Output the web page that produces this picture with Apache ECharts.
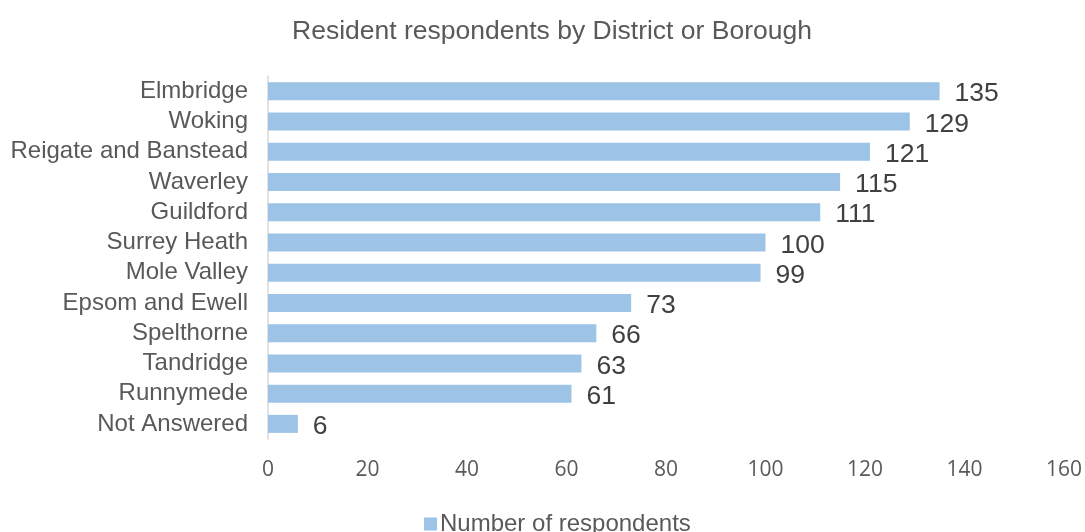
<!DOCTYPE html>
<html>
<head>
<meta charset="utf-8">
<script src="https://cdn.jsdelivr.net/npm/echarts@6/dist/echarts.min.js"></script>
<style>
  html, body { margin: 0; padding: 0; background: #fff; }
  #chart { width: 1085px; height: 532px; }
</style>
</head>
<body>
<div id="chart"></div>
<script>
// Respondent counts per district, top to bottom
const districts = [
  'Elmbridge', 'Woking', 'Reigate and Banstead', 'Waverley', 'Guildford',
  'Surrey Heath', 'Mole Valley', 'Epsom and Ewell', 'Spelthorne',
  'Tandridge', 'Runnymede', 'Not Answered'
];
const respondents = [135, 129, 121, 115, 111, 100, 99, 73, 66, 63, 61, 6];
const axisTicks = [0, 20, 40, 60, 80, 100, 120, 140, 160];

const chart = echarts.init(document.getElementById('chart'), null, { renderer: 'canvas' });

chart.setOption({
  animation: false,
  backgroundColor: '#ffffff',
  title: {
    text: 'Resident respondents by District or Borough',
    left: 287,
    top: 13,
    textStyle: {
      fontFamily: 'Liberation Sans, Arial, sans-serif',
      fontSize: 26.5,
      fontWeight: 'normal',
      color: '#595959'
    }
  },
  legend: {
    top: 507,
    left: 419,
    icon: 'rect',
    itemWidth: 13,
    itemHeight: 13,
    itemGap: 6,
    textStyle: {
      fontFamily: 'Liberation Sans, Arial, sans-serif',
      fontSize: 24,
      color: '#595959',
      padding: [0, 0, 0, -2]
    },
    data: ['Number of respondents']
  },
  grid: {
    left: 268,
    right: 20,
    top: 76,
    bottom: 93,
    containLabel: false
  },
  xAxis: {
    type: 'value',
    min: axisTicks[0],
    max: axisTicks[axisTicks.length - 1],
    interval: axisTicks[1] - axisTicks[0],
    axisLine: { show: false },
    axisTick: { show: false },
    splitLine: { show: false },
    axisLabel: {
      margin: 21,
      fontFamily: 'Open Sans, Noto Sans, sans-serif',
      fontSize: 21,
      color: '#595959'
    }
  },
  yAxis: {
    type: 'category',
    inverse: true,
    data: districts,
    axisLine: { show: true, lineStyle: { color: '#d9d9d9', width: 1.5 } },
    axisTick: { show: false },
    axisLabel: {
      interval: 0,
      hideOverlap: false,
      margin: 20,
      fontFamily: 'Liberation Sans, Arial, sans-serif',
      fontSize: 24,
      color: '#595959'
    }
  },
  series: [{
    name: 'Number of respondents',
    type: 'bar',
    data: respondents,
    barWidth: 18,
    itemStyle: { color: '#9dc3e6' },
    label: {
      show: true,
      position: 'right',
      distance: 15,
      fontFamily: 'Liberation Sans, Arial, sans-serif',
      fontSize: 26.5,
      color: '#404040',
      offset: [0, 3]
    }
  }]
});
</script>
</body>
</html>
